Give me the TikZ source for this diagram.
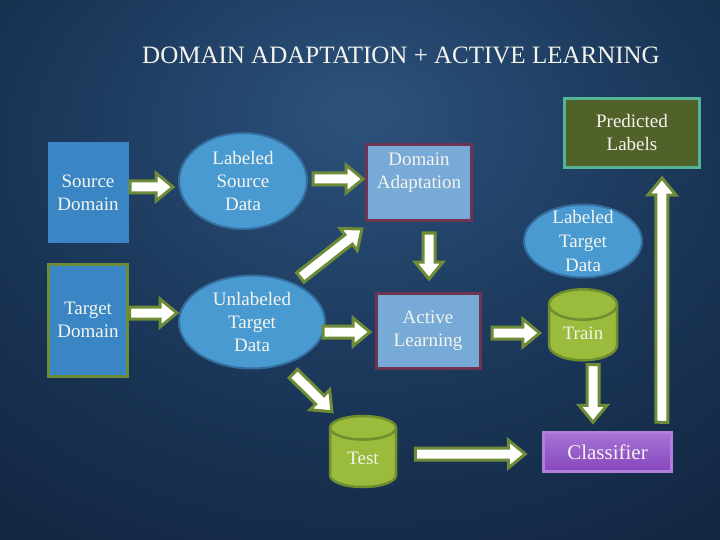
\documentclass[tikz,border=0pt]{standalone}
\usepackage{fontspec}
\setmainfont{Liberation Serif}
\usetikzlibrary{calc,shapes.geometric}

\definecolor{bgin}{HTML}{2C527C}
\definecolor{bgmid}{HTML}{1A3557}
\definecolor{bgout}{HTML}{0A1526}
\definecolor{textwhite}{HTML}{F4F4EC}
\definecolor{srcblue}{HTML}{3A86C4}
\definecolor{ellblue}{HTML}{4A9AD2}
\definecolor{elledge}{HTML}{346E9E}
\definecolor{stepblue}{HTML}{78AAD8}
\definecolor{stepedge}{HTML}{6E3452}
\definecolor{predfill}{HTML}{50622A}
\definecolor{prededge}{HTML}{54B498}
\definecolor{cylfill}{HTML}{9ABB3B}
\definecolor{cyledge}{HTML}{6F8F2F}
\definecolor{arrowgreen}{HTML}{6E8C37}
\definecolor{clftop}{HTML}{A772D6}
\definecolor{clfbot}{HTML}{8646BE}
\definecolor{clfedge}{HTML}{B07EDC}

\pgfdeclareradialshading{bgshade}{\pgfpoint{0bp}{15bp}}{color(0bp)=(bgin); color(24bp)=(bgmid); color(62bp)=(bgout); color(100bp)=(bgout)}

\tikzset{
  lbl/.style={text=textwhite, align=center, font=\fontsize{19}{23}\selectfont},
  bluebox/.style={lbl, rectangle, fill=srcblue, inner sep=0pt},
  dataell/.style={lbl, ellipse, fill=ellblue, draw=elledge, line width=2pt, inner sep=0pt},
  stepbox/.style={lbl, rectangle, fill=stepblue, draw=stepedge, line width=3pt, inner sep=0pt},
  store/.style={lbl, cylinder, shape border rotate=90, aspect=0.75, draw=cyledge, line width=2.5pt, fill=cylfill, inner sep=0pt},
  blockarrow/.style={draw=arrowgreen, fill=white, line width=3pt, line join=miter,
    to path={
      ($(\tikztotarget)!17pt!(\tikztostart)$) coordinate (hb)
      ($(\tikztostart)!6pt!90:(\tikztotarget)$) -- ($(hb)!6pt!90:(\tikztotarget)$)
      -- ($(hb)!14pt!90:(\tikztotarget)$) -- (\tikztotarget)
      -- ($(hb)!14pt!-90:(\tikztotarget)$) -- ($(hb)!6pt!-90:(\tikztotarget)$)
      -- ($(\tikztostart)!6pt!-90:(\tikztotarget)$) -- cycle}}
}

\begin{document}
\begin{tikzpicture}[x=1pt,y=-1pt]
%background
\shade[shading=bgshade] (0,0) rectangle (720,540);
\useasboundingbox (0,0) rectangle (720,540);

%title
\node[text=textwhite, font=\fontsize{25}{30}\selectfont] (title) at (401,55) {DOMAIN ADAPTATION + ACTIVE LEARNING};

%domains
\node[bluebox, minimum width=81, minimum height=101] (src) at (88,192.5) {Source\\Domain};
\node[bluebox, draw=arrowgreen, line width=3pt, minimum width=79, minimum height=112] (tgt) at (88,320) {Target\\Domain};

%data
\node[dataell, minimum width=128, minimum height=96] (lsd) at (243,181) {Labeled\\Source\\Data};
\node[dataell, minimum width=146, minimum height=93] (utd) at (252,322) {Unlabeled\\Target\\Data};
\node[dataell, minimum width=118, minimum height=73, inner ysep=-9pt, font=\fontsize{19}{24}\selectfont] (ltd) at (583,241) {Labeled\\Target\\Data};

%steps
\node[stepbox, minimum width=105, minimum height=76] (da) at (419,182.5) {Domain\\Adaptation\\~};
\node[stepbox, minimum width=104, minimum height=75] (al) at (428,331) {Active\\Learning};
\node[lbl, rectangle, fill=predfill, draw=prededge, line width=3pt, inner sep=0pt, minimum width=135, minimum height=69] (pred) at (632,133) {Predicted\\Labels};
\node[lbl, rectangle, top color=clftop, bottom color=clfbot, draw=clfedge, line width=2.5pt, inner sep=0pt, minimum width=128, minimum height=39, font=\fontsize{21}{25}\selectfont] (clf) at (607.5,452) {Classifier};

%stores
\node[store, minimum width=68, minimum height=71] (train) at (583,333) {Train};
\node[store, minimum width=66, minimum height=71] (test) at (363,458) {Test};

%arrows
\draw[blockarrow] ([shift={(1.5,-5.5)}]src.east) to ([shift={(-5,6)}]lsd.west);
\draw[blockarrow] ([shift={(0.5,-7)}]tgt.east) to ([shift={(-1,-9)}]utd.west);
\draw[blockarrow] ([shift={(5,-2)}]lsd.east) to ([shift={(-2,-3.5)}]da.west);
\draw[blockarrow] ([shift={(-4,-11)}]utd.north east) to ([shift={(-3,7)}]da.south west);
\draw[blockarrow] ([shift={(10,11)}]da.south) to ([shift={(1,-13)}]al.north);
\draw[blockarrow] ([shift={(-3,10)}]utd.east) to ([shift={(-4.5,1)}]al.west);
\draw[blockarrow] ([shift={(-11,18)}]utd.south east) to ([shift={(-31,-3)}]test.north);
\draw[blockarrow] ([shift={(10.5,2)}]al.east) to ([shift={(-8,0)}]train.west);
\draw[blockarrow] ([shift={(10,3)}]train.south) to ([shift={(-14.5,-9)}]clf.north);
\draw[blockarrow] ([shift={(18,-4)}]test.east) to ([shift={(-17,2)}]clf.west);
\draw[blockarrow] ([shift={(-11,-9)}]clf.north east) to ([shift={(30,9)}]pred.south);

\end{tikzpicture}
\end{document}
